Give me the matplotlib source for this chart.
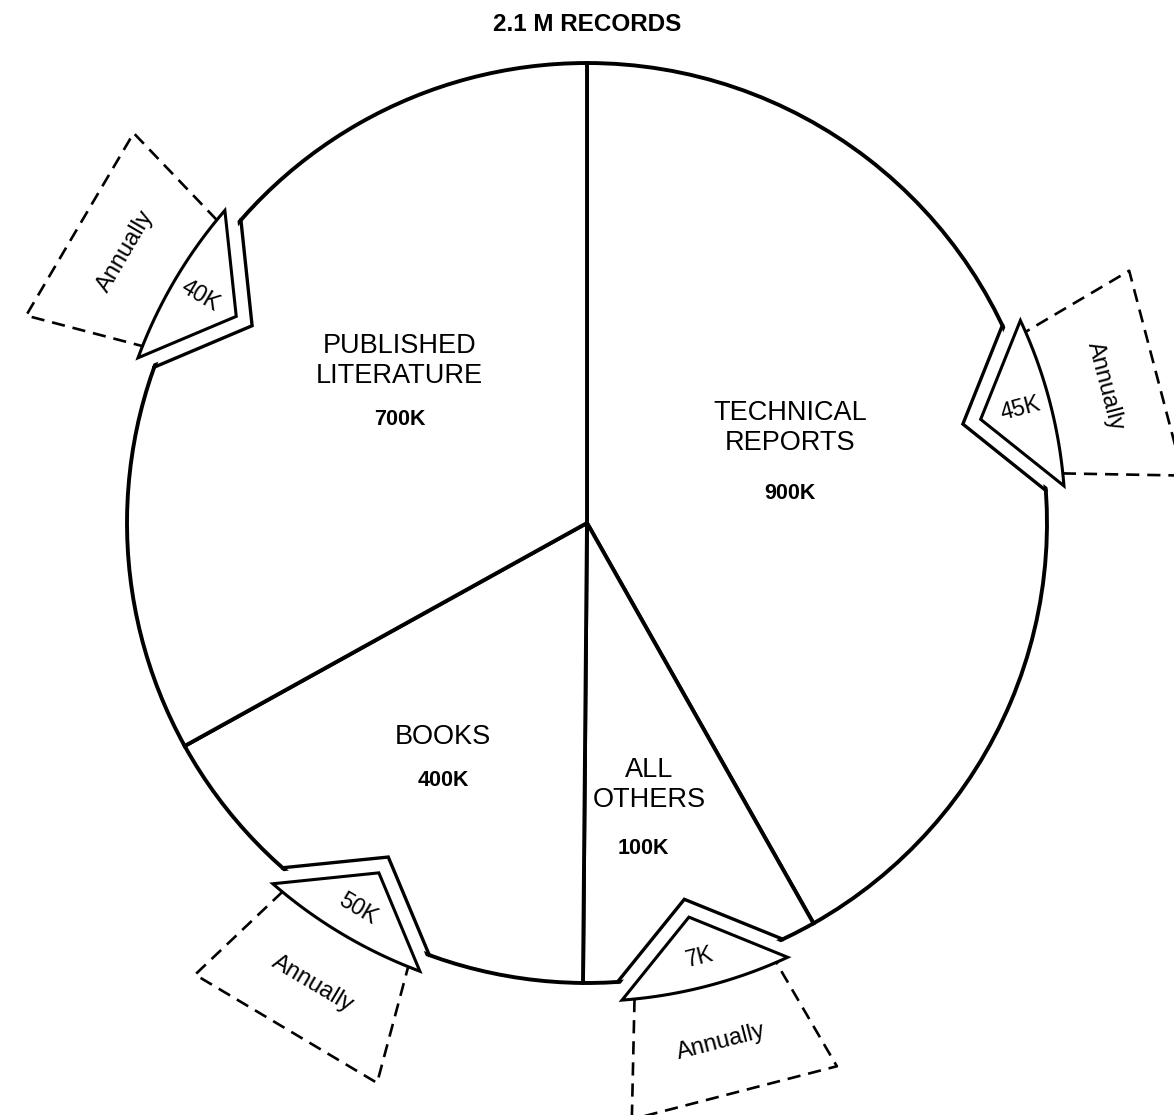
import numpy as np
import matplotlib
matplotlib.use("Agg")
import matplotlib.pyplot as plt
from matplotlib.patches import Polygon

plt.rcParams['font.family'] = ['Liberation Sans', 'DejaVu Sans']

# data, clockwise from the top
categories = ['TECHNICAL\nREPORTS', 'ALL\nOTHERS', 'BOOKS', 'PUBLISHED\nLITERATURE']
records_k = [900, 100, 400, 700]
annual_k = [45, 7, 50, 40]
# slice sizes as drawn in the original (degrees, the drawing is not to scale)
drawn_deg = [150.5, 30, 60.5, 119]
title = '2.1 M RECORDS'

# text anchors, in units of the pie radius
name_xy = [(0.441, 0.207), (0.135, -0.57), (-0.313, -0.465), (-0.407, 0.352)]
value_xy = [(0.441, 0.065), (0.122, -0.707), (-0.313, -0.559), (-0.407, 0.224)]


def polar(r, deg):
    t = np.radians(deg)
    return np.array([r * np.cos(t), r * np.sin(t)])


def arc(r, a0, a1, n=40):
    t = np.radians(np.linspace(a0, a1, n))
    return np.column_stack([r * np.cos(t), r * np.sin(t)])


def upright(a):
    return (a + 90) % 180 - 90


fig = plt.figure(figsize=(11.74, 11.15), dpi=100)
ax = fig.add_axes([0, 0, 1, 1])

wedges, _ = ax.pie(drawn_deg, startangle=90, counterclock=False, radius=1,
                   wedgeprops=dict(facecolor='white', edgecolor='black', linewidth=2.8))

for w, n_k in zip(wedges, annual_k):
    m = (w.theta1 + w.theta2) / 2
    # notch cut into the pie
    gap = np.vstack([arc(1.012, m - 10.7, m + 10.7), polar(0.845, m)])
    ax.add_patch(Polygon(gap, closed=True, facecolor='white', edgecolor='none', zorder=3))
    v = np.array([polar(1.0, m - 10.7), polar(0.845, m), polar(1.0, m + 10.7)])
    ax.plot(v[:, 0], v[:, 1], color='black', lw=2.4, zorder=3.5, solid_joinstyle='miter')
    # arrow piece pointing in
    head = np.vstack([arc(1.04, m - 10.3, m + 10.3), polar(0.885, m)])
    ax.add_patch(Polygon(head, closed=True, facecolor='white', edgecolor='black',
                         lw=2.2, zorder=4, joinstyle='miter'))
    # dashed "annually" box
    box = np.array([polar(1.04, m - 8.8), polar(1.30, m - 10.2),
                    polar(1.30, m + 10.2), polar(1.04, m + 8.8)])
    ax.plot(box[:, 0], box[:, 1], color='black', lw=1.9, ls=(0, (5, 3)), zorder=4)

    rot = upright(m) if np.sin(np.radians(m)) > 0 else upright(m - 90)
    tx, ty = polar(0.975, m)
    ax.text(tx, ty, f'{n_k}K', ha='center', va='center', rotation=rot,
            rotation_mode='anchor', fontsize=16.5, zorder=5)
    lx, ly = polar(1.165, m)
    ax.text(lx, ly, 'Annually', ha='center', va='center', rotation=upright(m - 90),
            rotation_mode='anchor', fontsize=17, zorder=5)

for name, val, (nx, ny), (vx, vy) in zip(categories, records_k, name_xy, value_xy):
    ax.text(nx, ny, name, ha='center', va='center', fontsize=19.5, linespacing=1.2)
    ax.text(vx, vy, f'{val}K', ha='center', va='center', fontsize=15.5, fontweight='bold')

ax.text(0, 1.083, title, ha='center', va='center', fontsize=17.5, fontweight='bold')

ax.set_xlim(-1.276, 1.276)
ax.set_ylim(-1.287, 1.137)
ax.set_aspect('equal')
ax.axis('off')

fig.savefig('out.png', dpi=100)
